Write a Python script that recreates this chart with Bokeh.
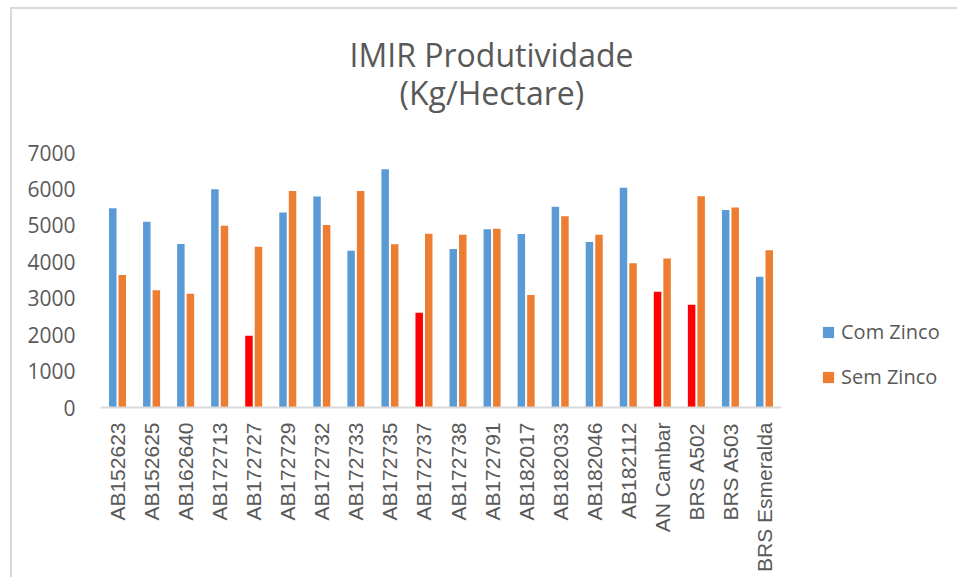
import math
from bokeh.plotting import figure
from bokeh.layouts import row
from bokeh.models import (Range1d, FactorRange, FixedTicker, Legend, LegendItem,
                          Title, ColumnDataSource)
from bokeh.transform import dodge
from bokeh.embed import file_html
from bokeh.resources import INLINE

categorias = ["AB152623", "AB152625", "AB162640", "AB172713", "AB172727",
              "AB172729", "AB172732", "AB172733", "AB172735", "AB172737",
              "AB172738", "AB172791", "AB182017", "AB182033", "AB182046",
              "AB182112", "AN Cambar", "BRS A502", "BRS A503", "BRS Esmeralda"]
com_zinco = [5470, 5100, 4490, 5990, 1970, 5350, 5790, 4300, 6540, 2600,
             4350, 4890, 4760, 5510, 4540, 6030, 3180, 2820, 5420, 3590]
sem_zinco = [3640, 3220, 3120, 4990, 4410, 5940, 5010, 5940, 4480, 4770,
             4740, 4910, 3090, 5250, 4740, 3960, 4090, 5800, 5490, 4320]
destaque = ["AB172727", "AB172737", "AN Cambar", "BRS A502"]
y_ticks = [0, 1000, 2000, 3000, 4000, 5000, 6000, 7000]
titulo = ["IMIR Produtividade", "(Kg/Hectare)"]
series = ["Com Zinco", "Sem Zinco"]

AZUL = "#5b9bd5"
LARANJA = "#ed7d31"
VERMELHO = "#ff0000"
CINZA = "#595959"
BORDA = "2px solid #d9d9d9"

cores = [VERMELHO if c in destaque else AZUL for c in categorias]
src = ColumnDataSource(dict(cat=categorias, com=com_zinco, sem=sem_zinco, cor=cores))

p = figure(x_range=FactorRange(factors=categorias, range_padding=0),
           y_range=Range1d(0, 7000), title_location=None,
           width=779, height=570, output_backend="svg", toolbar_location=None,
           min_border_left=88, min_border_right=10, min_border_top=143,
           min_border_bottom=172)
p.styles = {"border-top": BORDA, "border-left": BORDA,
            "margin-left": "10px", "margin-top": "7px"}

p.vbar(x=dodge("cat", -0.14, range=p.x_range), top="com", width=0.22,
       fill_color="cor", line_color=None, source=src)
p.vbar(x=dodge("cat", 0.14, range=p.x_range), top="sem", width=0.22,
       fill_color=LARANJA, line_color=None, source=src)

p.xgrid.visible = False
p.ygrid.visible = False
p.outline_line_color = None

p.yaxis.ticker = FixedTicker(ticks=y_ticks)
p.yaxis.axis_line_color = None
p.yaxis.major_tick_line_color = None
p.yaxis.minor_tick_line_color = None
p.yaxis.major_label_text_font = "Open Sans"
p.yaxis.major_label_text_font_size = "21px"
p.yaxis.major_label_text_color = CINZA
p.yaxis.major_label_standoff = 19

p.xaxis.axis_line_color = "#d9d9d9"
p.xaxis.axis_line_width = 2
p.xaxis.major_tick_line_color = None
p.xaxis.minor_tick_line_color = None
p.xaxis.major_label_orientation = math.pi / 2
p.xaxis.major_label_text_font = "Liberation Sans"
p.xaxis.major_label_text_font_size = "21px"
p.xaxis.major_label_text_color = CINZA
p.xaxis.major_label_standoff = 9

# closest to the frame first
p.add_layout(Title(text=titulo[1], align="left", offset=299, standoff=78,
                   text_font="Open Sans", text_font_size="32px",
                   text_font_style="normal", text_color=CINZA), "above")
p.add_layout(Title(text=titulo[0], align="left", offset=249, standoff=-92,
                   text_font="Open Sans", text_font_size="32px",
                   text_font_style="normal", text_color=CINZA), "above")

# legend panel
q = figure(width=168, height=570, x_range=Range1d(0, 1), y_range=Range1d(0, 1),
           output_backend="svg", toolbar_location=None, title_location=None,
           min_border=0)
q.styles = {"border-top": BORDA, "margin-top": "7px"}
q.axis.visible = False
q.grid.visible = False
q.outline_line_color = None
g1 = q.vbar(x=[-10], top=[0], width=0.2, fill_color=AZUL, line_color=None)
g2 = q.vbar(x=[-10], top=[0], width=0.2, fill_color=LARANJA, line_color=None)
legend = Legend(items=[LegendItem(label=series[0], renderers=[g1]),
                       LegendItem(label=series[1], renderers=[g2])],
                location=(32, 17), border_line_color=None,
                background_fill_alpha=0, padding=0, margin=0,
                glyph_width=14, glyph_height=14, label_standoff=6, spacing=18,
                label_text_font="Open Sans", label_text_font_size="20px",
                label_text_color=CINZA)
q.add_layout(legend)

layout = row(p, q, spacing=0)
open("out.html", "w").write(file_html(layout, INLINE))
